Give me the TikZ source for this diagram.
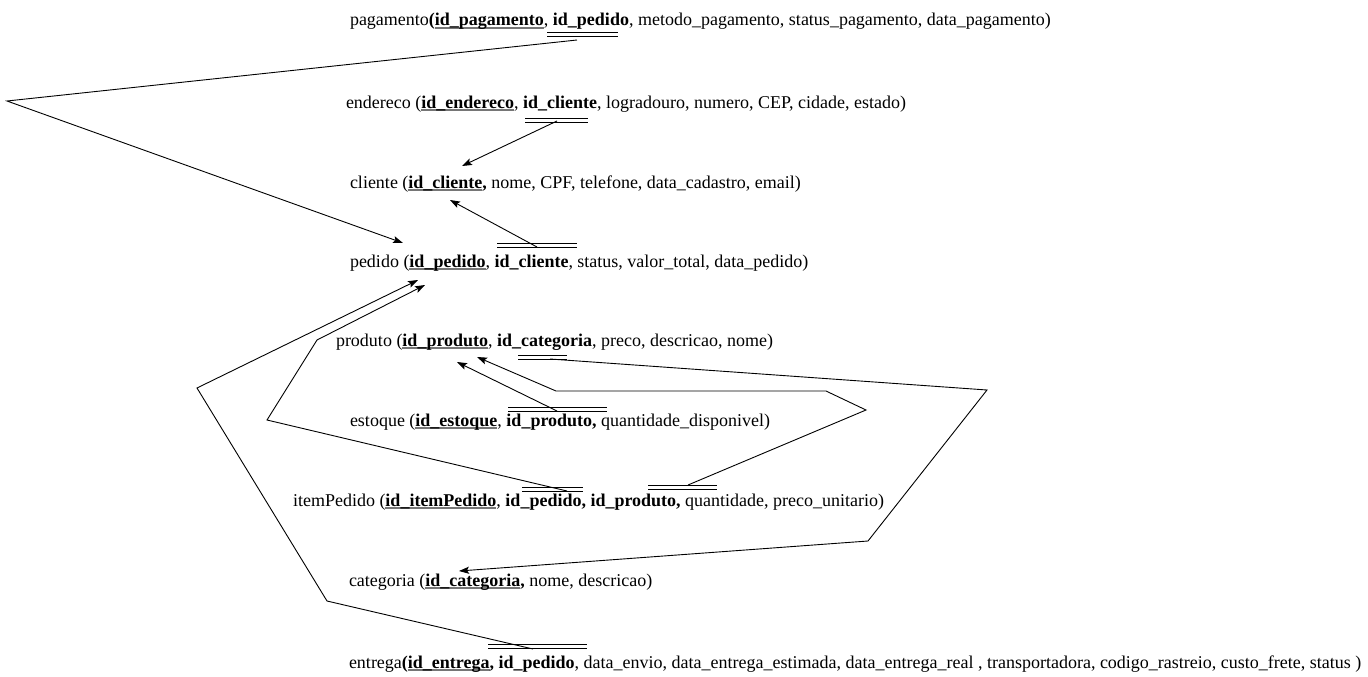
\documentclass[tikz,border=0pt]{standalone}
\usepackage{fontspec}
\setmainfont{Liberation Serif}
\usetikzlibrary{arrows.meta}
\definecolor{pkgray}{RGB}{118,118,118}
\newsavebox\pkbox
\newcommand{\pk}[1]{\sbox\pkbox{\bfseries #1}\rlap{\color{pkgray}\rule[-3.2pt]{\wd\pkbox}{1.8pt}}\usebox\pkbox}
\newcommand{\fkmk}[2]{\draw[fkline] ([yshift=2pt]#1) -- ([yshift=2pt]#2) ([yshift=-2pt]#1) -- ([yshift=-2pt]#2);}
\tikzset{
  row/.style={anchor=base west, inner sep=0pt, outer sep=0pt, font=\fontsize{18}{22}\selectfont},
  fkline/.style={draw=black, line width=1pt},
  conn/.style={draw=black, line width=0.9pt},
  arr/.style={conn, -{Stealth[length=10pt,width=7pt,inset=2pt]}}
}
\begin{document}
\begin{tikzpicture}[x=1pt,y=-1pt]
\fill[white] (0,0) rectangle (1368,677);
\useasboundingbox (0,0) rectangle (1368,677);

% tables
\node[row] (pagamento) at (350,26) {pagamento\textbf{(}\pk{id\_pagamento}, \textbf{id\_pedido}, metodo\_pagamento, status\_pagamento, data\_pagamento)};
\node[row] (endereco) at (346,108) {endereco (\pk{id\_endereco}, \textbf{id\_cliente}, logradouro, numero, CEP, cidade, estado)};
\node[row] (cliente) at (350,188) {cliente (\pk{id\_cliente}\textbf{,} nome, CPF, telefone, data\_cadastro, email)};
\node[row] (pedido) at (350,267) {pedido (\pk{id\_pedido}, \textbf{id\_cliente}, status, valor\_total, data\_pedido)};
\node[row] (produto) at (336,346) {produto (\pk{id\_produto}, \textbf{id\_categoria}, preco, descricao, nome)};
\node[row] (estoque) at (350,426) {estoque (\pk{id\_estoque}, \textbf{id\_produto,} quantidade\_disponivel)};
\node[row] (itemPedido) at (293,506) {itemPedido (\pk{id\_itemPedido}, \textbf{id\_pedido, id\_produto,} quantidade, preco\_unitario)};
\node[row] (categoria) at (349,586) {categoria (\pk{id\_categoria}\textbf{,} nome, descricao)};
\node[row] (entrega) at (349,668) {entrega\textbf{(}\pk{id\_entrega}\textbf{, id\_pedido}, data\_envio, data\_entrega\_estimada, data\_entrega\_real , transportadora, codigo\_rastreio, custo\_frete, status )};

% foreign key marks
\coordinate (pagFKa) at (547,35);  \coordinate (pagFKb) at (618,35);
\coordinate (endFKa) at (525,120); \coordinate (endFKb) at (588,120);
\coordinate (pedFKa) at (497,245); \coordinate (pedFKb) at (577,245);
\coordinate (proFKa) at (518,357); \coordinate (proFKb) at (567,357);
\coordinate (estFKa) at (508,409.5); \coordinate (estFKb) at (607,409.5);
\coordinate (itpFKa) at (522,489.5); \coordinate (itpFKb) at (583,489.5);
\coordinate (itrFKa) at (648,487); \coordinate (itrFKb) at (717,487);
\coordinate (entFKa) at (488,646); \coordinate (entFKb) at (587,646);
\fkmk{pagFKa}{pagFKb}
\fkmk{endFKa}{endFKb}
\fkmk{pedFKa}{pedFKb}
\fkmk{proFKa}{proFKb}
\fkmk{estFKa}{estFKb}
\fkmk{itpFKa}{itpFKb}
\fkmk{itrFKa}{itrFKb}
\fkmk{entFKa}{entFKb}

% connector ends and bends
\coordinate (pagOut) at (577,40);  \coordinate (pagBend) at (7,101);  \coordinate (pedInA) at (403,243);
\coordinate (endOut) at (557,121); \coordinate (cliInA) at (462,166);
\coordinate (pedOut) at (537,247); \coordinate (cliInB) at (450,200);
\coordinate (proOut) at (550,359); \coordinate (proB1) at (987,390); \coordinate (proB2) at (868,541); \coordinate (catIn) at (459,571);
\coordinate (estOut) at (557,411); \coordinate (prodInA) at (457,362);
\coordinate (itpOut) at (567,491); \coordinate (itpB1) at (267,420); \coordinate (itpB2) at (317,340); \coordinate (pedInC) at (425,285);
\coordinate (itrOut) at (688,485); \coordinate (itrB1) at (866,410); \coordinate (itrB2) at (826,391); \coordinate (itrB3) at (556,391); \coordinate (prodInB) at (477,357);
\coordinate (entOut) at (533,649); \coordinate (entB1) at (327,601); \coordinate (entB2) at (197,388); \coordinate (pedInB) at (418,280);

\draw[arr] (pagOut) -- (pagBend) -- (pedInA);
\draw[arr] (endOut) -- (cliInA);
\draw[arr] (pedOut) -- (cliInB);
\draw[arr] (proOut) -- (proB1) -- (proB2) -- (catIn);
\draw[arr] (estOut) -- (prodInA);
\draw[arr] (itpOut) -- (itpB1) -- (itpB2) -- (pedInC);
\draw[arr] (itrOut) -- (itrB1) -- (itrB2) -- (itrB3) -- (prodInB);
\draw[arr] (entOut) -- (entB1) -- (entB2) -- (pedInB);
\end{tikzpicture}
\end{document}
